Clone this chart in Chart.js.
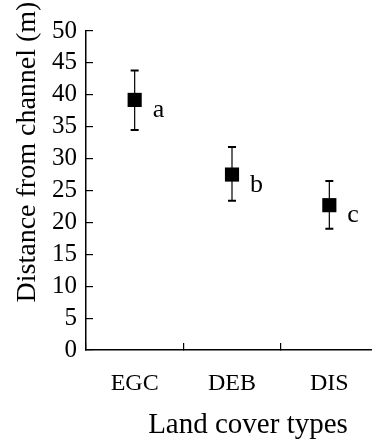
<!DOCTYPE html>
<html>
<head>
<meta charset="utf-8">
<script src="https://cdn.jsdelivr.net/npm/chart.js@4"></script>
<style>
  html, body { margin: 0; padding: 0; background: #fff; overflow: hidden; }
  #wrap { width: 388px; height: 443px; }
</style>
</head>
<body>
<div id="wrap"><canvas id="myChart"></canvas></div>
<script>
// land cover types and distance from channel (m)
var landTypes = ['EGC', 'DEB', 'DIS'];
var meanDist = [39.2, 27.5, 22.7];
var upperDist = [43.8, 31.8, 26.5];
var lowerDist = [34.5, 23.4, 19.0];
var sigLetters = ['a', 'b', 'c'];
var yTicks = [0, 5, 10, 15, 20, 25, 30, 35, 40, 45, 50];

var serif = "'Liberation Serif', 'Times New Roman', serif";

// error bars + letters + axis titles
var extras = {
  id: 'extras',
  beforeDatasetsDraw: function(chart) {
    var ctx = chart.ctx;
    var yScale = chart.scales.y;
    var meta = chart.getDatasetMeta(0);
    ctx.save();
    ctx.strokeStyle = '#000';
    for (var i = 0; i < meanDist.length; i++) {
      var x = meta.data[i].x;
      var yt = yScale.getPixelForValue(upperDist[i]);
      var yb = yScale.getPixelForValue(lowerDist[i]);
      ctx.lineWidth = 1.2;
      ctx.beginPath();
      ctx.moveTo(x, yt);
      ctx.lineTo(x, yb);
      ctx.stroke();
      ctx.lineWidth = 2;
      ctx.beginPath();
      ctx.moveTo(x - 4, yt);
      ctx.lineTo(x + 4, yt);
      ctx.moveTo(x - 4, yb);
      ctx.lineTo(x + 4, yb);
      ctx.stroke();
    }
    ctx.restore();
  },
  afterDraw: function(chart) {
    var ctx = chart.ctx;
    var meta = chart.getDatasetMeta(0);
    ctx.save();
    ctx.fillStyle = '#000';
    ctx.font = '26px ' + serif;
    ctx.textAlign = 'left';
    ctx.textBaseline = 'alphabetic';
    for (var i = 0; i < sigLetters.length; i++) {
      var p = meta.data[i];
      ctx.fillText(sigLetters[i], p.x + 18, p.y + 17);
    }
    // axis titles
    ctx.textAlign = 'center';
    ctx.textBaseline = 'middle';
    ctx.font = '29px ' + serif;
    ctx.fillText('Land cover types', 248, 425);
    ctx.font = '28px ' + serif;
    ctx.translate(28, 152);
    ctx.rotate(-Math.PI / 2);
    ctx.fillText('Distance from channel (m)', 0, 0);
    ctx.restore();
  }
};

new Chart(document.getElementById('myChart'), {
  type: 'line',
  data: {
    labels: landTypes,
    datasets: [{
      data: meanDist,
      showLine: false,
      pointStyle: 'rect',
      pointRadius: 10,
      pointHoverRadius: 10,
      pointBackgroundColor: '#000',
      pointBorderColor: '#000',
      pointBorderWidth: 0
    }]
  },
  options: {
    responsive: true,
    maintainAspectRatio: false,
    devicePixelRatio: 1,
    animation: false,
    events: [],
    layout: { padding: { top: 25, right: 0, left: 0, bottom: 0 } },
    plugins: {
      legend: { display: false },
      tooltip: { enabled: false }
    },
    scales: {
      x: {
        offset: true,
        grid: { display: true, offset: true, drawOnChartArea: false, drawTicks: true, tickLength: -7, color: '#000', lineWidth: 1.2 },
        border: { display: true, color: '#000', width: 1.5 },
        ticks: { color: '#000', font: { family: serif, size: 24 }, padding: 26, maxRotation: 0 },
        afterFit: function(s) { s.height = 93; }
      },
      y: {
        min: 0,
        max: 50,
        afterBuildTicks: function(s) { s.ticks = yTicks.map(function(v) { return { value: v }; }); },
        grid: { display: true, drawOnChartArea: false, drawTicks: true, tickLength: -7, color: '#000', lineWidth: 1.2 },
        border: { display: true, color: '#000', width: 1.5 },
        ticks: { color: '#000', font: { family: serif, size: 25 }, padding: 16, autoSkip: false },
        afterFit: function(s) { s.width = 86; }
      }
    }
  },
  plugins: [extras]
});
</script>
</body>
</html>
